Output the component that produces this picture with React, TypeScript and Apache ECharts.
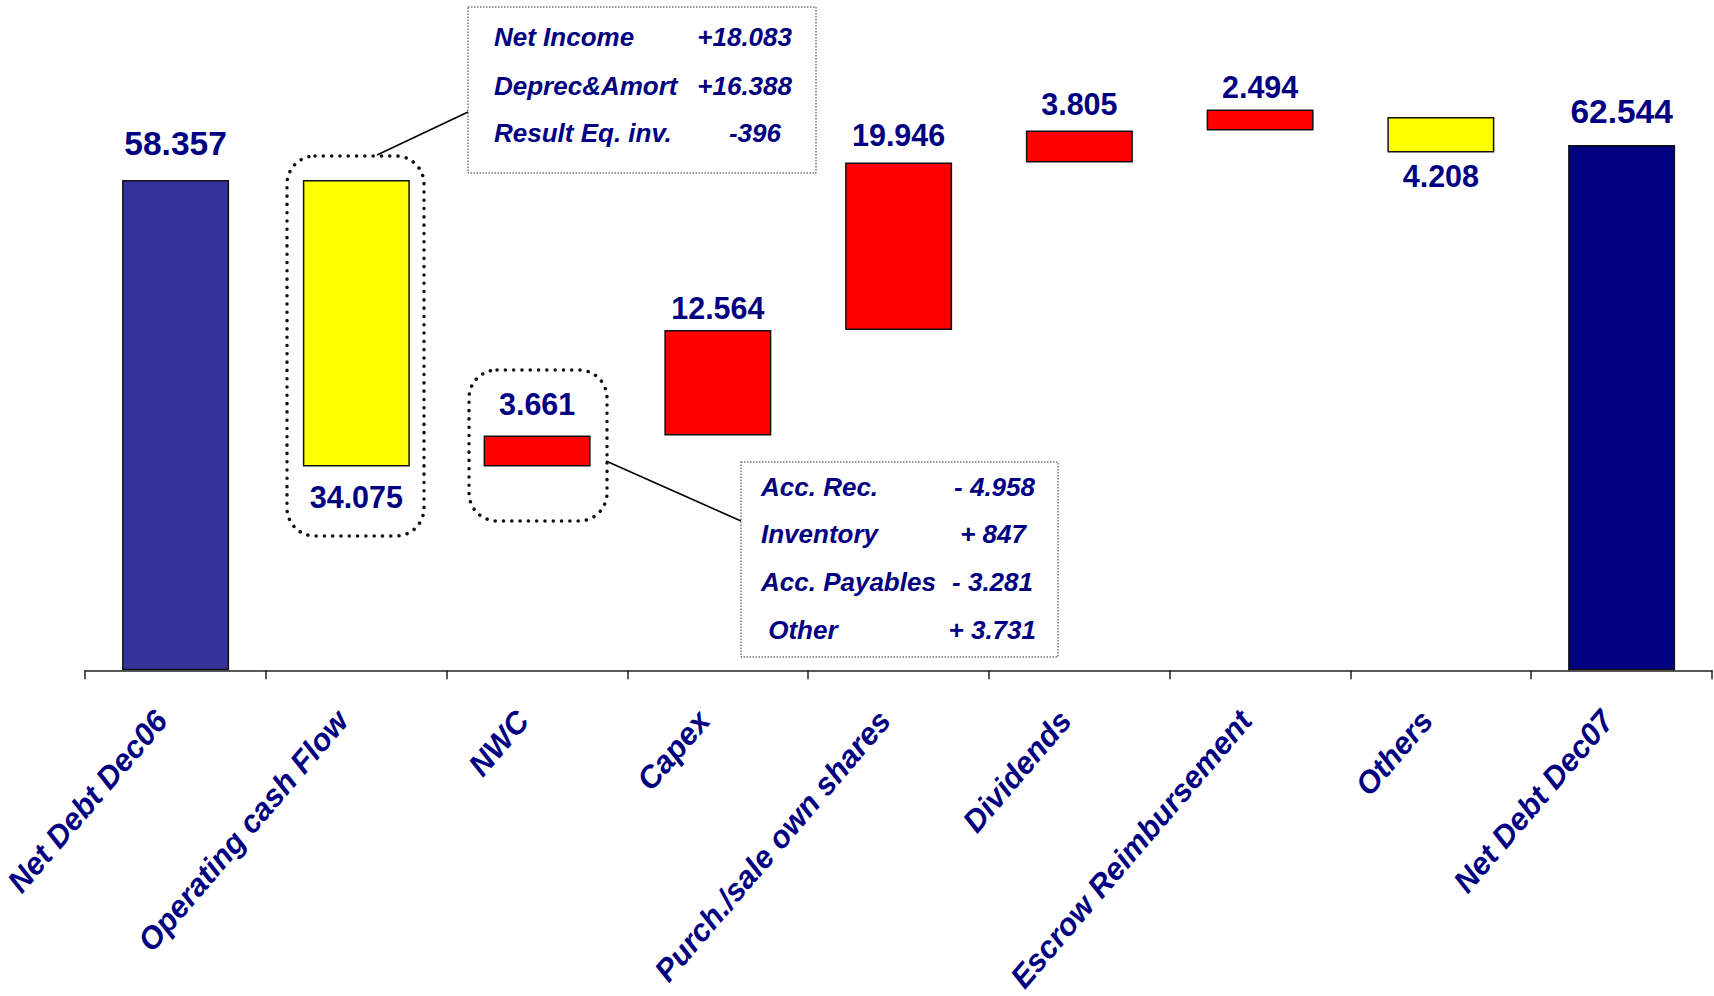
import React, { useEffect, useRef } from "react";
import * as echarts from "echarts";

const categories = [
  "Net Debt Dec06",
  "Operating cash Flow",
  "NWC",
  "Capex",
  "Purch./sale own shares",
  "Dividends",
  "Escrow Reimbursement",
  "Others",
  "Net Debt Dec07",
];
const barValues = [58.357, 34.075, 3.661, 12.564, 19.946, 3.805, 2.494, 4.208, 62.544];
const barLows = [0, 24.282, 24.282, 27.943, 40.507, 60.453, 64.258, 61.65, 0];
const barKinds = ["start", "down", "up", "up", "up", "up", "up", "down", "end"];
const labelDistances = [20, 15, 16, 7, 12, 11, 7.5, 8.5, 16];

const ocfDetailNames = ["Net Income", "Deprec&Amort", "Result Eq. inv."];
const ocfDetailValues = ["+18.083", "+16.388", "-396"];
const nwcDetailNames = ["Acc. Rec.", "Inventory", "Acc. Payables", " Other"];
const nwcDetailValues = ["- 4.958", "+ 847", "- 3.281", "+ 3.731"];

const NAVY = "#000080";
const FONT = '"Liberation Sans", Arial, sans-serif';
const kindColor: Record<string, string> = {
  start: "#333399",
  end: "#000080",
  down: "#FFFF00",
  up: "#FF0000",
};

export default function App() {
  const ref = useRef<HTMLDivElement>(null);
  useEffect(() => {
    if (!ref.current) return;
    const chart = echarts.init(ref.current, undefined, { renderer: "svg" });

    const detailText = (txt: string, x: number, y: number, align: string) => ({
      type: "text",
      x,
      y,
      z: 20,
      style: {
        text: txt,
        fill: NAVY,
        font: `italic bold 26px ${FONT}`,
        textAlign: align,
        textVerticalAlign: "middle",
      },
    });

    const ocfRowsY = [37, 86, 133];
    const ocfValX = [792, 792, 781];
    const nwcRowsY = [487, 534, 582, 630];
    const nwcValX = [1035, 1026, 1033, 1036];

    const dotted = {
      fill: "none",
      stroke: "#111",
      lineWidth: 3.5,
      lineDash: [0.1, 8.2],
      lineCap: "round",
    };

    const graphics: any[] = [
      { type: "rect", z: 15, shape: { x: 287, y: 156, width: 137, height: 380, r: 28 }, style: dotted },
      { type: "rect", z: 15, shape: { x: 469, y: 370, width: 138, height: 151, r: 28 }, style: dotted },
      {
        type: "rect",
        z: 15,
        shape: { x: 468, y: 7, width: 348, height: 166 },
        style: { fill: "#fff", stroke: "#333", lineWidth: 1, lineDash: [1.5, 1.5] },
      },
      {
        type: "rect",
        z: 15,
        shape: { x: 741, y: 462, width: 317, height: 195 },
        style: { fill: "#fff", stroke: "#333", lineWidth: 1, lineDash: [1.5, 1.5] },
      },
      {
        type: "line",
        z: 15,
        shape: { x1: 377, y1: 155, x2: 468, y2: 112 },
        style: { stroke: "#000", lineWidth: 1.6 },
      },
      {
        type: "line",
        z: 15,
        shape: { x1: 606, y1: 461, x2: 741, y2: 521 },
        style: { stroke: "#000", lineWidth: 1.6 },
      },
    ];
    ocfDetailNames.forEach((n, i) => {
      graphics.push(detailText(n, 494, ocfRowsY[i], "left"));
      graphics.push(detailText(ocfDetailValues[i], ocfValX[i], ocfRowsY[i], "right"));
    });
    nwcDetailNames.forEach((n, i) => {
      graphics.push(detailText(n, 761, nwcRowsY[i], "left"));
      graphics.push(detailText(nwcDetailValues[i], nwcValX[i], nwcRowsY[i], "right"));
    });

    const option: any = {
      animation: false,
      backgroundColor: "#fff",
      grid: { left: 83, top: 82.3, width: 1629, height: 588.7, containLabel: false },
      xAxis: {
        type: "category",
        data: categories,
        boundaryGap: true,
        axisLine: { show: true, lineStyle: { color: "#222", width: 1.5 } },
        axisTick: {
          show: true,
          alignWithLabel: false,
          length: 9,
          lineStyle: { color: "#222", width: 1.5 },
        },
        axisLabel: {
          interval: 0,
          rotate: 49.5,
          margin: 28,
          padding: [0, 22, 0, 0],
          color: NAVY,
          fontFamily: FONT,
          fontWeight: "bold",
          fontStyle: "italic",
          fontSize: 31,
        },
        splitLine: { show: false },
      },
      yAxis: {
        type: "value",
        min: 0,
        max: 70,
        show: false,
        splitLine: { show: false },
      },
      series: [
        {
          type: "bar",
          stack: "w",
          barWidth: 107,
          silent: true,
          itemStyle: { color: "transparent", borderColor: "transparent" },
          data: barLows,
        },
        {
          type: "bar",
          stack: "w",
          barWidth: 107,
          data: barValues.map((v, i) => {
            const isTotal = barKinds[i] === "start" || barKinds[i] === "end";
            return {
              value: v,
              itemStyle: {
                color: kindColor[barKinds[i]],
                borderColor: "#111",
                borderWidth: 1.5,
              },
              label: {
                show: true,
                position: barKinds[i] === "down" ? "bottom" : "top",
                distance: labelDistances[i],
                formatter: v.toFixed(3),
                color: NAVY,
                fontFamily: FONT,
                fontWeight: "bold",
                fontSize: isTotal ? 33.5 : 30.5,
              },
            };
          }),
        },
      ],
      graphic: graphics,
    };
    chart.setOption(option);
    return () => chart.dispose();
  }, []);

  return (
    <div
      ref={ref}
      style={{ position: "fixed", left: 0, top: 0, width: 1714, height: 996, background: "#fff" }}
    />
  );
}
